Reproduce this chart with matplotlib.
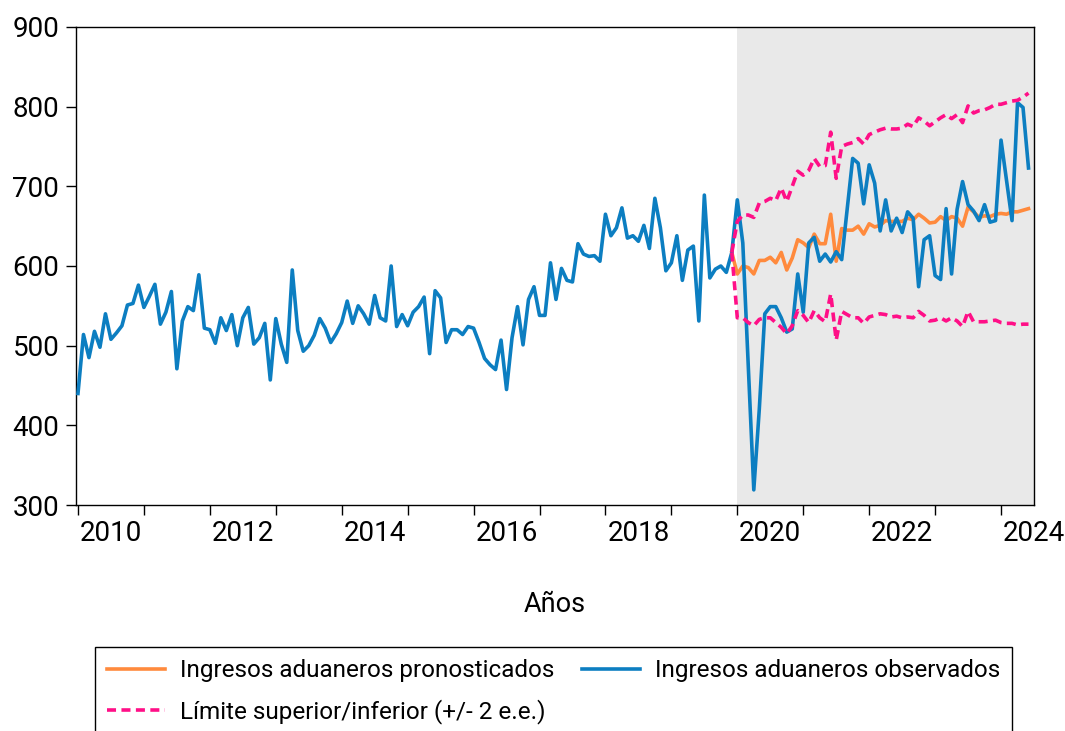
import numpy as np
import matplotlib
matplotlib.use("Agg")
import matplotlib.pyplot as plt

# monthly customs revenue, Jan 2010 - Jun 2024
observados = [
    440, 514, 485, 518, 498, 540, 508, 516, 525, 551, 553, 576,
    548, 562, 577, 527, 542, 568, 471, 531, 549, 544, 589, 522,
    520, 503, 535, 519, 539, 500, 535, 548, 502, 510, 528, 457,
    534, 502, 479, 595, 519, 493, 500, 513, 534, 522, 504, 515,
    529, 556, 528, 550, 540, 527, 563, 535, 531, 600, 524, 539,
    525, 542, 549, 561, 490, 569, 560, 504, 520, 520, 514, 524,
    522, 504, 484, 476, 470, 507, 445, 510, 549, 501, 558, 574,
    538, 538, 604, 558, 597, 582, 580, 628, 615, 612, 613, 606,
    665, 638, 648, 673, 635, 638, 631, 651, 622, 685, 648, 594,
    604, 638, 582, 620, 625, 531, 689, 585, 596, 600, 592, 617,
    683, 629, 473, 319, 420, 540, 549, 549, 535, 517, 521, 590,
    542, 629, 636, 606, 615, 605, 618, 608, 671, 735, 729, 678,
    727, 704, 644, 683, 644, 660, 642, 668, 660, 574, 633, 638,
    588, 583, 672, 590, 671, 706, 677, 669, 657, 677, 655, 657,
    758, 708, 657, 805, 799, 723,
]

# forecast starts at Dec 2019 (month index 119)
inicio_pron = 119
pronosticados = [
    617, 590, 600, 598, 590, 607, 607, 611, 604, 617, 595, 610,
    633, 629, 623, 640, 628, 628, 665, 606, 647, 645, 645, 650,
    640, 653, 649, 651, 657, 656, 656, 656, 660, 658, 665, 660,
    654, 655, 662, 657, 662, 660, 650, 674, 668, 661, 663, 662,
    665, 666, 665, 668, 668, 670, 672,
]
limite_sup = [
    617, 656, 664, 664, 661, 679, 681, 685, 682, 698, 681, 700,
    719, 714, 720, 735, 725, 726, 768, 710, 750, 753, 755, 760,
    753, 765, 768, 771, 773, 772, 772, 773, 778, 775, 786, 782,
    776, 781, 786, 790, 785, 790, 780, 801, 792, 795, 796, 799,
    803, 803, 805, 807, 808, 812, 817,
]
limite_inf = [
    617, 535, 535, 529, 525, 533, 535, 535, 529, 523, 515, 525,
    544, 538, 529, 544, 535, 530, 565, 507, 543, 539, 535, 535,
    528, 536, 538, 540, 539, 536, 537, 535, 536, 535, 543, 538,
    531, 532, 535, 531, 535, 531, 524, 543, 530, 530, 530, 531,
    532, 529, 528, 528, 526, 527, 527,
]

anios_ticks = list(range(2010, 2025))
anios_etiquetas = list(range(2010, 2025, 2))

plt.rcParams["font.family"] = ["Roboto", "DejaVu Sans"]

t_obs = 2010 + np.arange(len(observados)) / 12
t_pron = 2010 + (inicio_pron + np.arange(len(pronosticados))) / 12

fig = plt.figure(figsize=(10.65, 7.31), dpi=100)
ax = fig.add_axes([76 / 1065, 1 - 505 / 731, (1034 - 76) / 1065, (505 - 27) / 731])

azul = "#0C7EC1"
naranja = "#FF8A3D"
rosa = "#FF0F87"
ancho = 2.6
guion = (0, (2.5, 1.5))

ax.axvspan(2020, 2030, color="#E9E9E9", lw=0, zorder=0)
l_pron, = ax.plot(t_pron, pronosticados, color=naranja, lw=ancho, zorder=2,
                  label="Ingresos aduaneros pronosticados")
l_obs, = ax.plot(t_obs, observados, color=azul, lw=ancho, zorder=3,
                 label="Ingresos aduaneros observados")
l_sup, = ax.plot(t_pron, limite_sup, color=rosa, lw=ancho, ls=guion, zorder=4,
                 label="Límite superior/inferior (+/- 2 e.e.)")
ax.plot(t_pron, limite_inf, color=rosa, lw=ancho, ls=guion, zorder=4)

ax.set_xlim(2009.97, 2024.47)
ax.set_ylim(300, 900)
ax.set_yticks(range(300, 901, 100))
ax.set_xticks(anios_ticks)
ax.set_xticklabels([])
ax.set_xticks([a + 0.5 for a in anios_etiquetas], minor=True)
ax.set_xticklabels([str(a) for a in anios_etiquetas], minor=True)
ax.tick_params(axis="x", which="major", direction="out", length=7, width=1)
ax.tick_params(axis="x", which="minor", length=0, pad=11, labelsize=20)
ax.tick_params(axis="y", direction="out", length=7, width=1, pad=5, labelsize=20)
for s in ax.spines.values():
    s.set_linewidth(1)
    s.set_color("black")

ax.set_xlabel("Años", fontsize=19.5)
ax.xaxis.set_label_coords(0.5, -0.18)

leg = fig.legend(handles=[l_pron, l_sup, l_obs], ncol=2, loc="upper left",
                 bbox_to_anchor=(95 / 1065, 0.0, (1012 - 95) / 1065, 1 - 647 / 731),
                 bbox_transform=fig.transFigure, mode="expand", borderaxespad=0,
                 fontsize=17.5, handlelength=2.4, handletextpad=0.6, labelspacing=0.7,
                 borderpad=0.5, fancybox=False, edgecolor="black", framealpha=1)
leg.get_frame().set_linewidth(1)

fig.savefig("out.png", dpi=100)
